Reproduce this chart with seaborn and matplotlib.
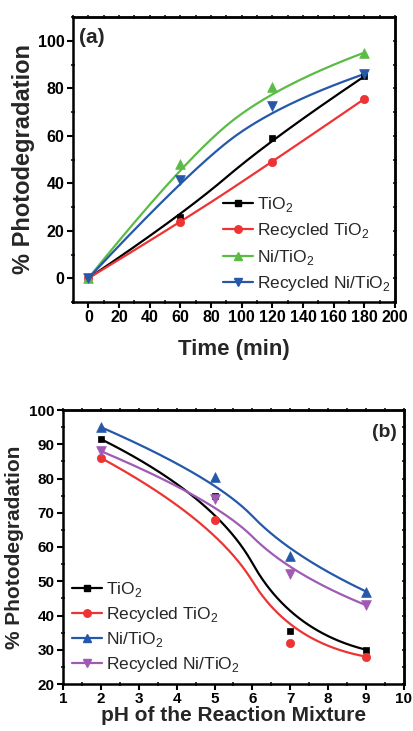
import numpy as np
import pandas as pd
import seaborn as sns
import matplotlib
matplotlib.use("Agg")
import matplotlib.pyplot as plt
from matplotlib.lines import Line2D
from matplotlib.ticker import MultipleLocator
from matplotlib.font_manager import FontProperties

# ---- data -------------------------------------------------------------
series_names = ["TiO$_2$", "Recycled TiO$_2$", "Ni/TiO$_2$", "Recycled Ni/TiO$_2$"]

time_min = [0, 60, 120, 180]
tio2_time = [0, 26, 59, 85]
rec_tio2_time = [0, 23.5, 49, 75.5]
ni_tio2_time = [0, 48, 80.5, 95]
rec_ni_tio2_time = [0, 41.5, 72.5, 86]

ph_values = [2, 5, 7, 9]
tio2_ph = [91.5, 75, 35.5, 30]
rec_tio2_ph = [86, 68, 32, 28]
ni_tio2_ph = [95, 80.5, 57.5, 47]
rec_ni_tio2_ph = [88, 74, 52, 43]

# ---- styling ----------------------------------------------------------
sns.set_theme(style="ticks")
plt.rcParams["font.family"] = ["Liberation Sans", "DejaVu Sans"]
plt.rcParams["mathtext.fontset"] = "custom"
plt.rcParams["mathtext.rm"] = "Liberation Sans"
plt.rcParams["mathtext.bf"] = "Liberation Sans:bold"

colors_a = ["#000000", "#EE3333", "#5CBB46", "#2558A8"]
colors_b = ["#000000", "#EE3333", "#2558A8", "#A05AB4"]
markers = ["s", "o", "^", "v"]
marker_sizes = [5, 6, 7, 7]


def bspline_curve(xs, ys, degree=2, n=300):
    """Clamped uniform B-spline using the data points as control points."""
    pts = np.column_stack([xs, ys]).astype(float)
    m = len(pts)
    inner = np.linspace(0, 1, m - degree + 1)
    knots = np.concatenate([np.zeros(degree), inner, np.ones(degree)])
    t = np.linspace(0, 1, n)
    t[-1] = 1 - 1e-10
    N = np.array([((knots[j] <= t) & (t < knots[j + 1])).astype(float)
                  for j in range(len(knots) - 1)]).T
    for d in range(1, degree + 1):
        cols = []
        for j in range(len(knots) - 1 - d):
            left = np.zeros_like(t)
            right = np.zeros_like(t)
            den1 = knots[j + d] - knots[j]
            den2 = knots[j + d + 1] - knots[j + 1]
            if den1 > 0:
                left = (t - knots[j]) / den1 * N[:, j]
            if den2 > 0:
                right = (knots[j + d + 1] - t) / den2 * N[:, j + 1]
            cols.append(left + right)
        N = np.array(cols).T
    curve = N @ pts
    return curve[:, 0], curve[:, 1]


def draw_panel(ax, x, ys_list, colors):
    for ys, c, mk, ms in zip(ys_list, colors, markers, marker_sizes):
        cx, cy = bspline_curve(x, ys)
        curve_df = pd.DataFrame({"x": cx, "y": cy})
        sns.lineplot(data=curve_df, x="x", y="y", ax=ax, color=c, lw=1.6,
                     sort=False, estimator=None, legend=False)
        pts_df = pd.DataFrame({"x": x, "y": ys})
        sns.scatterplot(data=pts_df, x="x", y="y", ax=ax, color=c, marker=mk,
                        s=ms ** 2, edgecolor=c, linewidth=0.5, legend=False, zorder=3)
    return [Line2D([], [], color=c, lw=1.6, marker=mk, markersize=ms * 0.9,
                   markeredgecolor=c)
            for c, mk, ms in zip(colors, markers, marker_sizes)]


def style_axes(ax, xmaj, xmin, ymaj, ymin, tick_font):
    for sp in ax.spines.values():
        sp.set_visible(True)
        sp.set_linewidth(1.8)
        sp.set_color("black")
    ax.xaxis.set_major_locator(MultipleLocator(xmaj))
    ax.xaxis.set_minor_locator(MultipleLocator(xmin))
    ax.yaxis.set_major_locator(MultipleLocator(ymaj))
    ax.yaxis.set_minor_locator(MultipleLocator(ymin))
    ax.tick_params(which="major", direction="out", length=4, width=1.5,
                   colors="black", pad=2)
    ax.tick_params(which="minor", direction="inout", length=3, width=1.3)
    ax.tick_params(top=False, right=False, which="both")
    for lab in ax.get_xticklabels() + ax.get_yticklabels():
        lab.set_fontproperties(tick_font)
    # mirrored ticks on the top and right spines
    sx = ax.secondary_xaxis("top")
    sy = ax.secondary_yaxis("right")
    sx.xaxis.set_major_locator(MultipleLocator(xmaj))
    sx.xaxis.set_minor_locator(MultipleLocator(xmin))
    sy.yaxis.set_major_locator(MultipleLocator(ymaj))
    sy.yaxis.set_minor_locator(MultipleLocator(ymin))
    for sec in (sx, sy):
        sec.tick_params(which="both", direction="inout", length=3, width=1.3,
                        labeltop=False, labelright=False)
        for sp in sec.spines.values():
            sp.set_linewidth(1.8)


fig = plt.figure(figsize=(4.14, 7.31), dpi=100)

# ---- panel (a): time dependence ----------------------------------------
ax1 = fig.add_axes([73 / 414, 1 - 302 / 731, 322 / 414, 285 / 731])
h1 = draw_panel(ax1, time_min,
                [tio2_time, rec_tio2_time, ni_tio2_time, rec_ni_tio2_time],
                colors_a)
ax1.set_xlim(-10, 200)
ax1.set_ylim(-10, 110)
style_axes(ax1, 20, 10, 20, 10,
           FontProperties(family=["Liberation Sans Narrow", "Liberation Sans"],
                          weight="bold", size=11.5))
ax1.set_xlabel("Time (min)", fontsize=16, fontweight="bold", labelpad=10)
ax1.set_ylabel("% Photodegradation", fontsize=17, fontweight="bold", labelpad=2)
ax1.text(0.02, 0.96, "(a)", transform=ax1.transAxes, fontsize=15,
         fontweight="bold", va="top", ha="left")
ax1.legend(h1, series_names, loc="upper left", bbox_to_anchor=(0.466, 0.375),
           frameon=False, fontsize=12.5, handlelength=1.7, handletextpad=0.25,
           labelspacing=0.42, borderaxespad=0, borderpad=0)

# ---- panel (b): pH dependence ------------------------------------------
ax2 = fig.add_axes([63 / 414, 1 - 684 / 731, 341 / 414, 274 / 731])
h2 = draw_panel(ax2, ph_values,
                [tio2_ph, rec_tio2_ph, ni_tio2_ph, rec_ni_tio2_ph],
                colors_b)
ax2.set_xlim(1, 10)
ax2.set_ylim(20, 100)
style_axes(ax2, 1, 0.5, 10, 5,
           FontProperties(family="Liberation Sans", weight="bold", size=11))
ax2.set_xlabel("pH of the Reaction Mixture", fontsize=15, fontweight="bold", labelpad=0)
ax2.set_ylabel("% Photodegradation", fontsize=15, fontweight="bold", labelpad=4)
ax2.text(0.98, 0.95, "(b)", transform=ax2.transAxes, fontsize=14,
         fontweight="bold", va="top", ha="right")
ax2.legend(h2, series_names, loc="upper left", bbox_to_anchor=(0.026, 0.38),
           frameon=False, fontsize=12.5, handlelength=1.75, handletextpad=0.2,
           labelspacing=0.35, borderaxespad=0, borderpad=0)

fig.savefig("out.png", dpi=100)
